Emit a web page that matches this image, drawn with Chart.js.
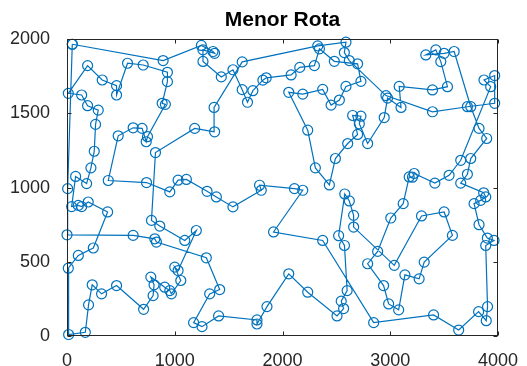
<!DOCTYPE html>
<html>
<head>
<meta charset="utf-8">
<script src="https://cdn.jsdelivr.net/npm/chart.js@4.4.1/dist/chart.umd.min.js"></script>
<style>
  html, body { margin: 0; padding: 0; background: #fff; }
  #wrap { width: 527px; height: 366px; }
</style>
</head>
<body>
<div id="wrap"><canvas id="routeChart" width="527" height="366"></canvas></div>
<script>
const chartTitle = 'Menor Rota';

// city coordinates in visiting order
const routeX = [
  49, 892, 1247, 1355, 1370, 1262, 1262, 1432, 1540, 1626,
  1675, 1725, 1818, 1849, 2080, 2160, 2296, 2343, 2481, 2697,
  2728, 2589, 2528, 2451, 2373, 2188, 2058, 2234, 2305, 2435,
  2491, 2605, 2697, 2651, 2728, 2713, 2790, 2944, 2975, 3100,
  3083, 3392, 3531, 3469, 3423, 3330, 3500, 3593, 3747, 3824,
  3895, 3747, 3716, 3654, 3867, 3886, 3839, 3778, 3824, 3901,
  3963, 3886, 3903, 3891, 3820, 3635, 3402, 2846, 2373, 1917,
  2188, 2111, 1787, 1803, 1540, 1386, 1300, 1108, 1031, 954,
  738, 383, 475, 614, 697, 735, 747, 913, 883, 932,
  932, 707, 562, 460, 460, 327, 191, 12, 136, 191,
  290, 265, 253, 222, 182, 80, 43, 105, 136, 197,
  377, 244, 105, 12, 15, 170, 200, 234, 321, 460,
  711, 799, 808, 778, 907, 954, 969, 1056, 1000, 1031,
  1200, 1093, 861, 784, 821, 1185, 1370, 1365, 1626, 2327,
  2589, 2574, 2620, 2960, 3392, 3716, 3969, 3969, 3870, 3932,
  3654, 3546, 3414, 3222, 3206, 3176, 3120, 3005, 2883, 2790,
  2938, 2985, 3078, 3136, 3268, 3315, 3577, 3500, 3290, 3037,
  2660, 2660, 2620, 2578, 2521, 2575, 2600, 2545, 2567, 2506,
  2234, 2058, 1856, 1763, 1763, 1407, 1253, 1175, 1324, 1417,
  1293, 830, 815, 614, 0, 6, 49
];
const routeY = [
  1966, 1856, 1958, 1917, 1905, 1928, 1850, 1746, 1794, 1660,
  1575, 1653, 1724, 1740, 1759, 1810, 1822, 1935, 1851, 1834,
  1716, 1682, 1590, 1556, 1662, 1630, 1642, 1387, 1133, 1018,
  1196, 1297, 1358, 1486, 1481, 1430, 1297, 1472, 1603, 1540,
  1682, 1658, 1680, 1849, 1928, 1894, 1905, 1917, 1545, 1399,
  1331, 1196, 1090, 1030, 965, 937, 914, 892, 750, 660,
  644, 610, 198, 103, 164, 40, 142, 90, 644, 701,
  982, 993, 1016, 982, 870, 937, 975, 1055, 1050, 971,
  1034, 1048, 1349, 1403, 1399, 1309, 1343, 1561, 1568, 1714,
  1777, 1826, 1838, 1624, 1687, 1725, 1822, 1635, 1624, 1552,
  1522, 1426, 1245, 1133, 1027, 1075, 872, 880, 872, 903,
  836, 593, 543, 457, 10, 25, 210, 345, 284, 340,
  180, 272, 345, 397, 329, 306, 284, 374, 464, 441,
  711, 644, 741, 779, 1236, 1399, 1376, 1540, 1847, 1955,
  1980, 1910, 1856, 1620, 1511, 1545, 1568, 1755, 1725, 1680,
  1184, 1083, 1030, 1095, 1070, 1072, 892, 795, 570, 487,
  340, 216, 176, 412, 385, 498, 678, 836, 809, 476,
  734, 813, 910, 957, 676, 610, 306, 235, 185, 135,
  295, 419, 198, 81, 108, 135, 63, 90, 284, 313,
  527, 633, 655, 678, 682, 993, 1966
];

const xTicks = [0, 1000, 2000, 3000, 4000];
const yTicks = [0, 500, 1000, 1500, 2000];

const lineColor = '#0072BD';
const axisColor = '#262626';

const routePoints = routeX.map((x, i) => ({ x: x, y: routeY[i] }));

// box around the axes with inward ticks, like the original figure
const boxPlugin = {
  id: 'boxPlugin',
  afterDraw(chart) {
    const { ctx, chartArea: a, scales } = chart;
    const len = 4;
    ctx.save();
    ctx.strokeStyle = axisColor;
    ctx.lineWidth = 1;
    const l = Math.round(a.left) + 0.5, r = Math.round(a.right) - 0.5;
    const t = Math.round(a.top) + 0.5, b = Math.round(a.bottom) - 0.5;
    ctx.strokeRect(l, t, r - l, b - t);
    ctx.beginPath();
    xTicks.forEach(v => {
      const px = Math.round(scales.x.getPixelForValue(v)) + 0.5;
      ctx.moveTo(px, b); ctx.lineTo(px, b - len);
      ctx.moveTo(px, t); ctx.lineTo(px, t + len);
    });
    yTicks.forEach(v => {
      const py = Math.round(scales.y.getPixelForValue(v)) + 0.5;
      ctx.moveTo(l, py); ctx.lineTo(l + len, py);
      ctx.moveTo(r, py); ctx.lineTo(r - len, py);
    });
    ctx.stroke();
    ctx.restore();
  }
};

const tickFont = { family: "'Liberation Sans', Arial, sans-serif", size: 18 };

new Chart(document.getElementById('routeChart'), {
  type: 'scatter',
  data: {
    datasets: [{
      data: routePoints,
      showLine: true,
      borderColor: lineColor,
      borderWidth: 1.2,
      pointRadius: 5,
      pointHoverRadius: 5,
      pointBorderWidth: 1.2,
      pointBorderColor: lineColor,
      pointBackgroundColor: 'rgba(0,0,0,0)',
      tension: 0,
      clip: false
    }]
  },
  plugins: [boxPlugin],
  options: {
    responsive: false,
    animation: false,
    devicePixelRatio: 1,
    layout: { padding: { left: 0, right: 29, top: 0, bottom: 0 } },
    plugins: {
      legend: { display: false },
      tooltip: { enabled: false },
      title: {
        display: true,
        fullSize: false,
        text: chartTitle,
        color: '#000',
        font: { family: "'Liberation Sans', Arial, sans-serif", size: 21, weight: 'bold' },
        padding: { top: 8, bottom: 6 }
      }
    },
    scales: {
      x: {
        type: 'linear',
        min: 0,
        max: 4000,
        afterBuildTicks: s => { s.ticks = xTicks.map(v => ({ value: v })); },
        afterFit: s => { s.height = 30; },
        grid: { display: false },
        border: { display: false },
        ticks: { color: axisColor, font: tickFont, padding: 6, maxRotation: 0, callback: v => String(v) }
      },
      y: {
        type: 'linear',
        min: 0,
        max: 2000,
        afterBuildTicks: s => { s.ticks = yTicks.map(v => ({ value: v })); },
        afterFit: s => { s.width = 67; },
        grid: { display: false },
        border: { display: false },
        ticks: { color: axisColor, font: tickFont, padding: 9, callback: v => String(v) }
      }
    }
  }
});
</script>
</body>
</html>
